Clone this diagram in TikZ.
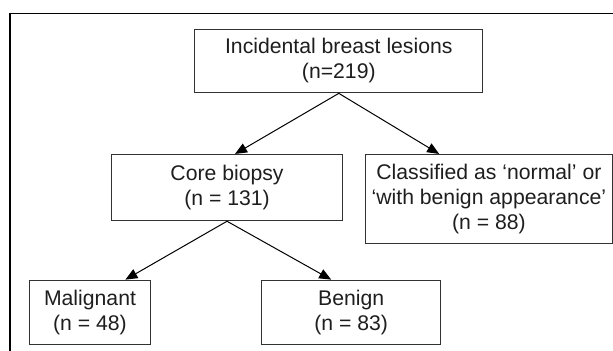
\documentclass[tikz,border=0pt]{standalone}
\usepackage{fontspec}
\setmainfont{Liberation Sans}
\usepackage{tikz}
\usetikzlibrary{arrows.meta, positioning}
\definecolor{boxgray}{RGB}{50,50,50}
\definecolor{textgray}{RGB}{30,30,30}

\begin{document}
\begin{tikzpicture}[
		x=0.5pt, y=-0.5pt,
		block/.style={rectangle, draw=boxgray, line width=0.65pt, align=center, inner sep=0pt,
			font=\fontsize{10.6}{12.5}\selectfont, text=textgray},
		arrow/.style={-{Triangle[length=6pt, width=5pt]}, line width=0.5pt, color=black}
		]
		\useasboundingbox (0,0) rectangle (613,351);
		\draw[line width=0.7pt] (9.8,360) |- (620,13.3);

		\node[block, minimum width=144pt, minimum height=31.7pt] (lesions) at (338.8,61) {Incidental breast lesions\\(n=219)};
		\node[block, minimum width=115.5pt, minimum height=33pt, below=30.3pt of lesions.south, xshift=-55.9pt] (core) {Core biopsy\\(n = 131)};
		\node[block, minimum width=123.5pt, minimum height=44.5pt, right=10.8pt of core.north east, anchor=north west] (normal) {Classified as ‘normal’ or\\‘with benign appearance’\\(n = 88)};
		\node[block, minimum width=60.5pt, minimum height=32pt, below=29.2pt of core.south, xshift=-68.5pt] (malig) {Malignant\\(n = 48)};
		\node[block, minimum width=89.5pt, minimum height=32pt, below=29.2pt of core.south, xshift=62.1pt] (benign) {Benign\\(n = 83)};

		\draw[arrow] (lesions.south) -- ([xshift=4pt]core.north);
		\draw[arrow] (lesions.south) -- ([xshift=37.2pt]normal.north west);
		\draw[arrow] (core.south) -- ([xshift=17.7pt]malig.north);
		\draw[arrow] (core.south) -- ([xshift=-10pt]benign.north);
\end{tikzpicture}
\end{document}
